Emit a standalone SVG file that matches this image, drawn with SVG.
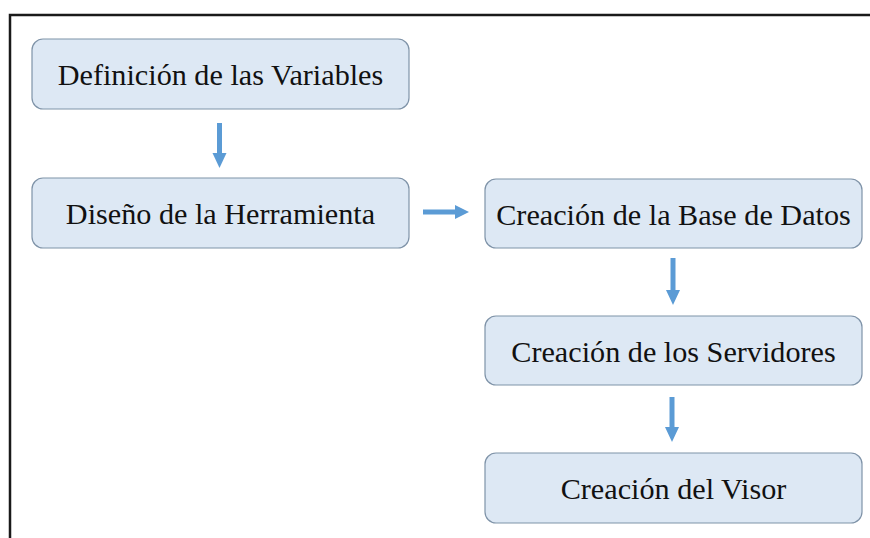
<svg xmlns="http://www.w3.org/2000/svg" width="870" height="538" viewBox="0 0 870 538">
<style>
.box{fill:#dde8f4;stroke:#7f93a8;stroke-width:1.2}
.lbl{font-family:"Liberation Serif","Times New Roman",serif;font-size:30.2px;fill:#111;text-anchor:middle}
.conn{stroke:#5b9bd5;stroke-width:5;fill:none}
.head{fill:#5b9bd5}
</style>
<rect x="0" y="0" width="870" height="538" fill="#fff"/>
<path d="M10 540 V15 H872" fill="none" stroke="#1a1a1a" stroke-width="2.5"/>
<g id="n1"><rect class="box" x="32" y="39" width="377" height="70" rx="11"/><text class="lbl" x="220.5" y="85">Definición de las Variables</text></g>
<g id="n2"><rect class="box" x="32" y="178" width="377" height="70" rx="11"/><text class="lbl" x="220.5" y="224">Diseño de la Herramienta</text></g>
<g id="n3"><rect class="box" x="485" y="179" width="377" height="69" rx="11"/><text class="lbl" x="673.5" y="225">Creación de la Base de Datos</text></g>
<g id="n4"><rect class="box" x="485" y="316" width="377" height="69" rx="11"/><text class="lbl" x="673.5" y="362">Creación de los Servidores</text></g>
<g id="n5"><rect class="box" x="485" y="453" width="377" height="70" rx="11"/><text class="lbl" x="673.5" y="499">Creación del Visor</text></g>
<g id="connectors">
<line class="conn" x1="219.5" y1="123" x2="219.5" y2="154"/><polygon class="head" points="212.5,153 226.5,153 219.5,168"/>
<line class="conn" x1="423" y1="212" x2="456" y2="212"/><polygon class="head" points="455,205 455,219 469,212"/>
<line class="conn" x1="673" y1="258" x2="673" y2="291"/><polygon class="head" points="666,290 680,290 673,305"/>
<line class="conn" x1="672" y1="397" x2="672" y2="428"/><polygon class="head" points="665,427 679,427 672,442"/>
</g>
</svg>
